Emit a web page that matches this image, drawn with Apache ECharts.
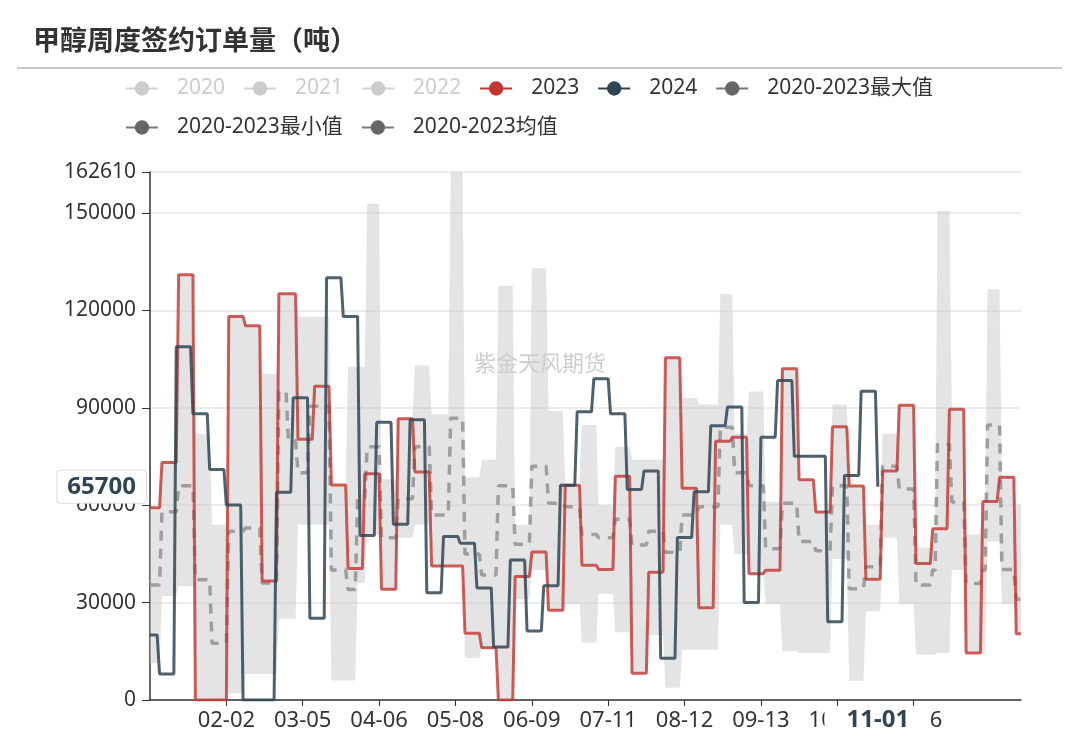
<!DOCTYPE html>
<html><head><meta charset="utf-8">
<script src="https://cdn.jsdelivr.net/npm/echarts@6/dist/echarts.min.js"></script>
<style>html,body{margin:0;padding:0;background:#fff}#main{width:1080px;height:743px}</style>
</head><body><div id="main"></div>
<script>
const FONT = '"Noto Sans", "Noto Sans CJK SC", sans-serif';
const titleText = '甲醇周度签约订单量（吨）';
const watermark = '紫金天风期货';
const seriesNames = ['2020','2021','2022','2023','2024','2020-2023最大值','2020-2023最小值','2020-2023均值'];

// 2023: value held from 01-01, then weekly reports (Fridays from 2023-01-06)
const first2023 = '2023-01-06';
const values2023 = [59170,73110,131000,0,0,118130,115240,36660,125100,80290,96590,66250,40520,69680,
  34090,86620,70220,41270,41270,20580,16080,0,38060,45560,27660,66140,41490,40200,68930,8250,39340,
  105380,65180,28410,79650,80940,38910,39990,102050,67860,57890,84150,65930,37200,70540,90800,42020,
  52740,89510,14470,61100,68610,20370];
// 2024: value held from 01-01, then weekly reports (Fridays from 2024-01-05) up to 11-01
const first2024 = '2024-01-05';
const values2024 = [20050,8040,108810,88120,70970,60030,0,0,64000,93050,25190,130030,118130,50700,
  85550,54140,86300,33020,50380,48240,34520,16290,43090,21230,35160,66140,88760,98950,88120,64860,
  70540,12860,50060,64110,84470,90260,30020,80940,98410,75040,75040,24120,69140,95090,65700];

// 2020-2023 statistics, each value held from its start date
const bandStart = ['01-01','01-06','01-13','01-20','01-27','02-03','02-10','02-17','02-24','02-28',
  '03-03','03-08','03-17','03-24','03-28','04-01','04-07','04-14','04-21','04-28','05-06','05-12',
  '05-19','05-26','06-02','06-09','06-16','06-23','06-30','07-07','07-14','07-21','07-28','08-04',
  '08-11','08-18','08-27','09-02','09-08','09-15','09-22','09-29','10-06','10-13','10-20','10-27',
  '11-03','11-10','11-17','11-24','11-26','12-02','12-08','12-15','12-17','12-23','12-29'];
const bandMax = [59170,73110,131000,82000,54000,118130,115240,100400,125100,125100,
  118000,118000,66250,102600,102600,152800,68000,86620,103000,88000,162610,68600,
  74000,127600,54000,133000,89000,66140,84700,60000,78000,74000,74000,105380,
  93000,91000,125000,82000,95000,61000,102050,68000,58000,91000,66000,54000,
  82000,90800,47000,52740,150600,89510,51000,61100,126500,68610,60000];
const bandMin = [11300,32000,35000,0,0,2000,8000,8000,25000,25000,
  54000,54000,6000,6000,36000,51000,34090,50000,54000,41270,41270,12900,
  16080,0,31000,40000,27660,29500,17700,32700,20900,8250,20000,3750,
  15500,15500,54000,45000,38910,29500,15000,14500,14500,43400,5900,27300,
  50000,29500,14000,14000,14500,40000,14470,14470,48800,29500,20370];
const bandAvg = [35400,58000,66000,37000,17500,52000,53000,36000,95000,80000,
  70000,90500,40000,34000,62000,78000,50000,62000,78000,57000,86800,45000,
  38500,66000,48000,72000,60600,59500,51000,50000,55700,47700,52000,45500,
  57000,59500,84000,70000,66000,46600,60600,48800,46000,66000,34300,41000,
  72000,65000,35400,40000,78800,61000,35900,40000,84700,40200,31000];

const pointerDate = '11-01';
const pointerValue = 65700;
const yInterval = 30000;
const labelEvery = 32;      // one x label every 32 days
const lastLabelDate = '11-16';

// ---- build daily categories (leap-year calendar) ----
const pad = n => (n < 10 ? '0' : '') + n;
const monthDays = [31,29,31,30,31,30,31,31,30,31,30,31];
const categories = [];
monthDays.forEach((n, m) => { for (let d = 1; d <= n; d++) categories.push(pad(m + 1) + '-' + pad(d)); });

function weeklyDates(first, count) {
  const out = [];
  const dt = new Date(first + 'T00:00:00Z');
  for (let i = 0; i < count; i++) {
    out.push(pad(dt.getUTCMonth() + 1) + '-' + pad(dt.getUTCDate()));
    dt.setUTCDate(dt.getUTCDate() + 7);
  }
  return out;
}
function stepDaily(dates, values, stopAtLast) {
  const idx = dates.map(d => categories.indexOf(d));
  const end = stopAtLast ? idx[idx.length - 1] : categories.length - 1;
  const out = new Array(categories.length).fill(null);
  let k = 0;
  for (let i = 0; i <= end; i++) {
    while (k + 1 < idx.length && idx[k + 1] <= i) k++;
    out[i] = values[k];
  }
  return out;
}
const dates2023 = ['01-01'].concat(weeklyDates(first2023, values2023.length - 1));
const dates2024 = ['01-01'].concat(weeklyDates(first2024, values2024.length - 1));
const daily2023 = stepDaily(dates2023, values2023, false);
const daily2024 = stepDaily(dates2024, values2024, true);
const dailyMax = stepDaily(bandStart, bandMax, false);
const dailyMin = stepDaily(bandStart, bandMin, false);
const dailyAvg = stepDaily(bandStart, bandAvg, false);
const dailySpan = dailyMax.map((v, i) => v - dailyMin[i]);
const lastLabelIdx = categories.indexOf(lastLabelDate);
const showLabel = i => i > 0 && i % labelEvery === 0 && i <= lastLabelIdx;

const chart = echarts.init(document.getElementById('main'), null, {renderer: 'canvas'});
const hidden = {type: 'line', data: [], symbol: 'circle', showSymbol: false, itemStyle: {color: '#ccc'}};
const option = {
  backgroundColor: '#fff',
  animation: false,
  textStyle: {fontFamily: FONT},
  title: {text: titleText, left: 28, top: 21,
    textStyle: {fontSize: 27, fontWeight: 'bold', color: '#333', fontFamily: '"Noto Sans CJK SC", sans-serif'}},
  graphic: [
    {type: 'line', shape: {x1: 17, y1: 68, x2: 1062, y2: 68}, style: {stroke: '#c8c8c8', lineWidth: 2}},
    {type: 'text', left: 474, top: 352, z: 0,
      style: {text: watermark, fill: 'rgba(0,0,0,0.2)', font: '22px "Noto Sans CJK SC", sans-serif'}}
  ],
  legend: {
    left: 120, top: 73, width: 840, itemGap: 18, itemWidth: 32, itemHeight: 18,
    textStyle: {fontSize: 21, color: '#333', fontFamily: FONT, padding: [0, 0, 0, 14]},
    inactiveColor: '#ccc',
    selected: {'2020': false, '2021': false, '2022': false},
    data: [
      {name: seriesNames[0]}, {name: seriesNames[1]}, {name: seriesNames[2]},
      {name: seriesNames[3], lineStyle: {width: 2, opacity: 1}},
      {name: seriesNames[4], lineStyle: {width: 2, opacity: 1}},
      {name: seriesNames[5], itemStyle: {color: '#666'}, lineStyle: {color: '#777', width: 2, opacity: 1, type: 'solid'}},
      {name: seriesNames[6], itemStyle: {color: '#666'}, lineStyle: {color: '#777', width: 2, opacity: 1, type: 'solid'}},
      {name: seriesNames[7], itemStyle: {color: '#666'}, lineStyle: {color: '#777', width: 2, opacity: 1, type: 'solid'}}
    ]
  },
  grid: {left: 150, right: 59, top: 172, bottom: 43, containLabel: false, outerBoundsMode: 'none'},
  xAxis: {
    type: 'category', data: categories, boundaryGap: false,
    axisLine: {show: true, lineStyle: {color: '#333', width: 1.5}},
    axisTick: {show: true, interval: showLabel, length: 6, lineStyle: {color: '#333'}},
    axisLabel: {interval: showLabel, fontSize: 22, color: '#333', margin: 10, fontFamily: FONT},
    splitLine: {show: false},
    axisPointer: {
      show: true, type: 'line', status: 'show', value: categories.indexOf(pointerDate),
      lineStyle: {opacity: 0},
      label: {show: true, backgroundColor: '#fff', color: '#2f4554', fontWeight: 'bold', fontSize: 24,
        fontFamily: FONT, padding: [2, 22], borderWidth: 0, shadowBlur: 0, margin: 6}
    }
  },
  yAxis: {
    type: 'value', min: 0, max: 'dataMax', interval: yInterval,
    axisLine: {show: true, lineStyle: {color: '#333', width: 1.5}},
    axisTick: {show: true, length: 8, lineStyle: {color: '#333'}},
    axisLabel: {fontSize: 21, color: '#333', margin: 14, fontFamily: FONT, formatter: v => String(v)},
    splitLine: {show: true, lineStyle: {color: '#e6e6e6', width: 1.5}},
    axisPointer: {
      show: true, type: 'line', status: 'show', value: pointerValue,
      lineStyle: {opacity: 0},
      label: {show: true, backgroundColor: '#fff', color: '#2f4554', fontWeight: 'bold', fontSize: 24,
        fontFamily: FONT, padding: [4, 10], borderColor: '#ddd', borderWidth: 1, shadowBlur: 0, margin: 4,
        formatter: p => String(Math.round(p.value))}
    }
  },
  series: [
    Object.assign({name: seriesNames[0]}, hidden),
    Object.assign({name: seriesNames[1]}, hidden),
    Object.assign({name: seriesNames[2]}, hidden),
    {name: seriesNames[6], type: 'line', stack: 'band', data: dailyMin, symbol: 'circle', showSymbol: false,
      itemStyle: {color: '#666'}, lineStyle: {opacity: 0}, silent: true},
    {name: seriesNames[5], type: 'line', stack: 'band', data: dailySpan, symbol: 'circle', showSymbol: false,
      itemStyle: {color: '#666'}, lineStyle: {opacity: 0}, areaStyle: {color: 'rgba(205,205,205,0.55)', opacity: 1}, silent: true},
    {name: seriesNames[7], type: 'line', data: dailyAvg, symbol: 'circle', showSymbol: false,
      itemStyle: {color: '#666'}, lineStyle: {color: '#9e9e9e', width: 3.5, type: [10, 8]}},
    {name: seriesNames[3], type: 'line', data: daily2023, symbol: 'circle', showSymbol: false,
      itemStyle: {color: '#c23531'}, lineStyle: {color: '#c23531', width: 3, opacity: 0.8}},
    {name: seriesNames[4], type: 'line', data: daily2024, symbol: 'circle', showSymbol: false,
      itemStyle: {color: '#2f4554'}, lineStyle: {color: '#2f4554', width: 3, opacity: 0.85}}
  ]
};
chart.setOption(option);
</script>
</body></html>
